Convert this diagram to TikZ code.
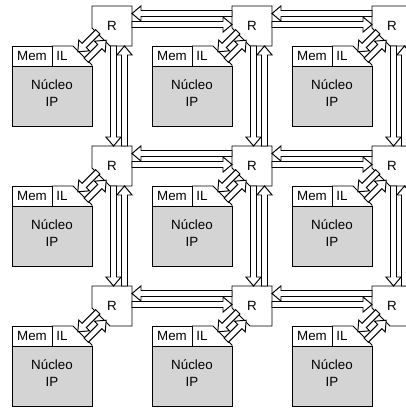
\documentclass[tikz,border=0pt]{standalone}
\usepackage{fontspec}
\setmainfont{Liberation Sans}
\usetikzlibrary{calc}

\definecolor{coregray}{gray}{0.83}

\tikzset{
  router/.style = {minimum size=10mm, inner sep=0pt, outer sep=0pt},
  core/.style = {draw, fill=coregray, minimum width=20mm, minimum height=15mm,
    inner sep=0pt, outer sep=0pt},
  cell/.style = {draw, minimum width=10mm, minimum height=5mm, inner sep=0pt, outer sep=0pt},
  % hollow block arrow from start to target
  link/.style = {draw, fill=white, to path={
      ($(\tikztostart)!0.75mm!-90:(\tikztotarget)$)
      -- ($(\tikztotarget)!2.25mm!(\tikztostart)!0.75mm!90:(\tikztostart)$)
      -- ($(\tikztotarget)!2.25mm!(\tikztostart)!1.9mm!90:(\tikztostart)$)
      -- (\tikztotarget)
      -- ($(\tikztotarget)!2.25mm!(\tikztostart)!1.9mm!-90:(\tikztostart)$)
      -- ($(\tikztotarget)!2.25mm!(\tikztostart)!0.75mm!-90:(\tikztostart)$)
      -- ($(\tikztostart)!0.75mm!90:(\tikztotarget)$)
      -- cycle}}
}

\begin{document}
\begin{tikzpicture}[x=0.25mm, y=-0.25mm, line width=0.7pt, font=\fontsize{9.5}{12}\selectfont]

    % Page frame
    \useasboundingbox (0,0) rectangle (406,409);
    \clip (0,0) rectangle (406,409);

    \foreach \i in {0,1,2} {
      \foreach \j in {0,1,2} {
        % Router, with its lower left corner cut
        \node[router] (r-\i-\j) at (112+140*\i, 26+140*\j) {R};
        \draw (r-\i-\j.north west) -- (r-\i-\j.north east) -- (r-\i-\j.south east)
          -- ($(r-\i-\j.south west)+(18,0)$) -- ($(r-\i-\j.south west)+(0,-18)$) -- cycle;

        % IP core with the Mem and IL cells on top
        \node[core] (c-\i-\j) at (52+140*\i, 96+140*\j) {};
        \node[align=center] (t-\i-\j) at ($(c-\i-\j.center)+(0,-3)$) {Núcleo\\IP};
        \node[cell, anchor=south west] (m-\i-\j) at (c-\i-\j.north west) {Mem};
        \node (il-\i-\j) at ($(m-\i-\j.east)+(10,0)$) {IL};
        \draw (m-\i-\j.north east) -- ($(c-\i-\j.north east)+(-19,-20)$)
          -- ($(c-\i-\j.north east)+(0,-1)$) -- (c-\i-\j.north east);

        % Links between router and core
        \draw[link] ($(r-\i-\j.south west)+(5.8,-14.2)$) to ($(c-\i-\j.north east)+(-14.2,-14.2)$);
        \draw[link] ($(c-\i-\j.north east)+(-5.8,-5.8)$) to ($(r-\i-\j.south west)+(14.2,-5.8)$);
      }
    }

    % Horizontal links between routers
    \foreach \i [count=\ii from 1] in {0,1} {
      \foreach \j in {0,1,2} {
        \draw[link] ($(r-\ii-\j.west)+(0,-12.5)$) to ($(r-\i-\j.east)+(0,-12.5)$);
        \draw[link] ($(r-\i-\j.east)+(0,-1.5)$) to ($(r-\ii-\j.west)+(0,-1.5)$);
      }
    }

    % Vertical links between routers
    \foreach \j [count=\jj from 1] in {0,1} {
      \foreach \i in {0,1,2} {
        \draw[link] ($(r-\i-\j.south)+(1.5,0)$) to ($(r-\i-\jj.north)+(1.5,0)$);
        \draw[link] ($(r-\i-\jj.north)+(12.5,0)$) to ($(r-\i-\j.south)+(12.5,0)$);
      }
    }

\end{tikzpicture}
\end{document}
